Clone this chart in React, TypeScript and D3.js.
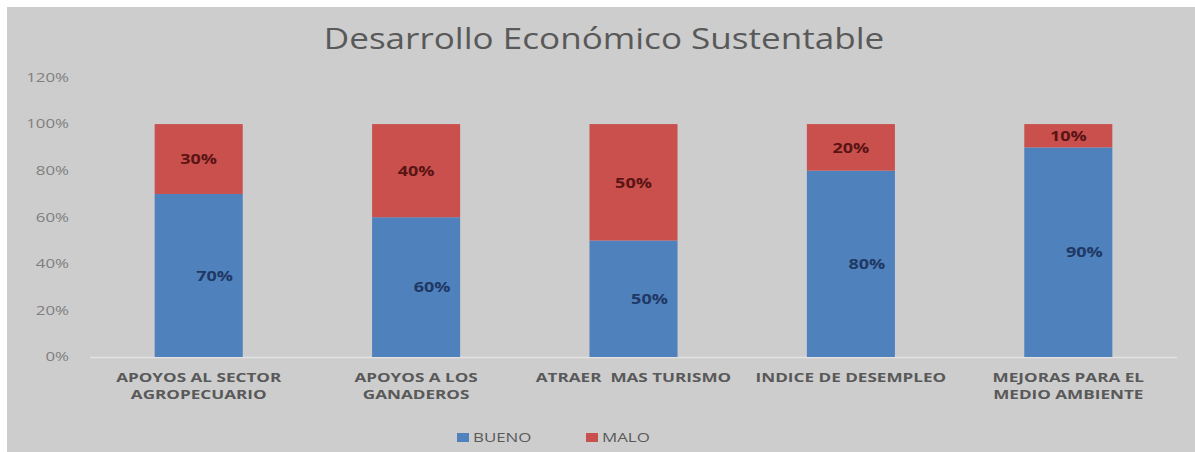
import React from "react";
import * as d3 from "d3";

const categories: string[][] = [
  ["APOYOS AL SECTOR", "AGROPECUARIO"],
  ["APOYOS A LOS", "GANADEROS"],
  ["ATRAER  MAS TURISMO"],
  ["INDICE DE DESEMPLEO"],
  ["MEJORAS PARA EL", "MEDIO AMBIENTE"],
];
const bueno = [0.7, 0.6, 0.5, 0.8, 0.9];
const malo = [0.3, 0.4, 0.5, 0.2, 0.1];
const yTicks = [0, 0.2, 0.4, 0.6, 0.8, 1.0, 1.2];
const seriesNames = ["BUENO", "MALO"];

const W = 1195;
const H = 452;
const plotLeft = 90;
const plotRight = 1177;
const plotTop = 77.5;
const plotBottom = 357;

const BLUE = "#4f81bd";
const RED = "#c9504d";
const FONT = "'Open Sans', 'DejaVu Sans', sans-serif";
const SX = 1.25;

function T(props: {
  x: number;
  y: number;
  sx?: number;
  anchor?: string;
  size: number;
  weight?: string;
  fill: string;
  dy?: string;
  children: React.ReactNode;
}) {
  const { x, y, sx = SX, anchor = "start", size, weight = "normal", fill, dy, children } = props;
  return (
    <text
      transform={`translate(${x},${y}) scale(${sx},1)`}
      textAnchor={anchor}
      fontSize={size}
      fontWeight={weight}
      fill={fill}
      dy={dy}
      style={{ whiteSpace: "pre" }}
    >
      {children}
    </text>
  );
}

export default function App() {
  const keys = categories.map((c) => c.join(" "));
  const x = d3.scaleBand<string>().domain(keys).range([plotLeft, plotRight]).paddingInner(0.595).paddingOuter(0.2975);
  const y = d3.scaleLinear().domain([0, 1.2]).range([plotBottom, plotTop]);
  const fmt = d3.format(".0%");
  const stack = d3.stack<number>().keys(["0", "1"]).value((i, k) => (k === "0" ? bueno[i] : malo[i]));
  const series = stack(d3.range(keys.length));
  const colors = [BLUE, RED];
  const labelColors = ["#1f3864", "#5a1414"];
  const cx = (i: number) => (x(keys[i]) as number) + x.bandwidth() / 2;

  return (
    <svg width={W} height={H} style={{ position: "absolute", left: 0, top: 0 }} fontFamily={FONT}>
      <rect x={0} y={0} width={W} height={H} fill="#ffffff" />
      <rect x={7} y={7} width={W - 7} height={H - 7} fill="#cdcdcd" />
      <T x={604} y={49} anchor="middle" size={29} sx={1.21} fill="#595959">
        Desarrollo Económico Sustentable
      </T>
      {yTicks.map((t) => (
        <T key={t} x={69} y={y(t)} dy="0.35em" anchor="end" size={12.5} sx={1.35} fill="#7f7f7f">
          {fmt(t)}
        </T>
      ))}
      <line x1={plotLeft} x2={plotRight} y1={plotBottom + 0.5} y2={plotBottom + 0.5} stroke="#e2e2e2" strokeWidth={1.5} />
      {series.map((s, si) =>
        s.map((d, i) => (
          <rect
            key={`${si}-${i}`}
            x={x(keys[i])}
            y={y(d[1])}
            width={x.bandwidth()}
            height={y(d[0]) - y(d[1])}
            fill={colors[si]}
          />
        ))
      )}
      {series.map((s, si) =>
        s.map((d, i) => (
          <T
            key={`l${si}-${i}`}
            x={cx(i) + (si === 0 ? 16 : 0)}
            y={y((d[0] + d[1]) / 2)}
            dy="0.35em"
            anchor="middle"
            size={15}
            sx={1.2}
            weight="bold"
            fill={labelColors[si]}
          >
            {fmt(d[1] - d[0])}
          </T>
        ))
      )}
      {categories.map((lines, i) =>
        lines.map((ln, j) => (
          <T
            key={`c${i}-${j}`}
            x={cx(i)}
            y={382 + j * 17}
            anchor="middle"
            size={12.5}
            sx={1.37}
            weight="bold"
            fill="#595959"
          >
            {ln}
          </T>
        ))
      )}
      {seriesNames.map((n, i) => (
        <g key={n} transform={`translate(${457 + i * 129},437.5)`}>
          <rect x={0} y={-4.5} width={12} height={9} fill={colors[i]} />
          <T x={16} y={0} dy="0.35em" size={13} sx={1.3} fill="#595959">
            {n}
          </T>
        </g>
      ))}
    </svg>
  );
}
